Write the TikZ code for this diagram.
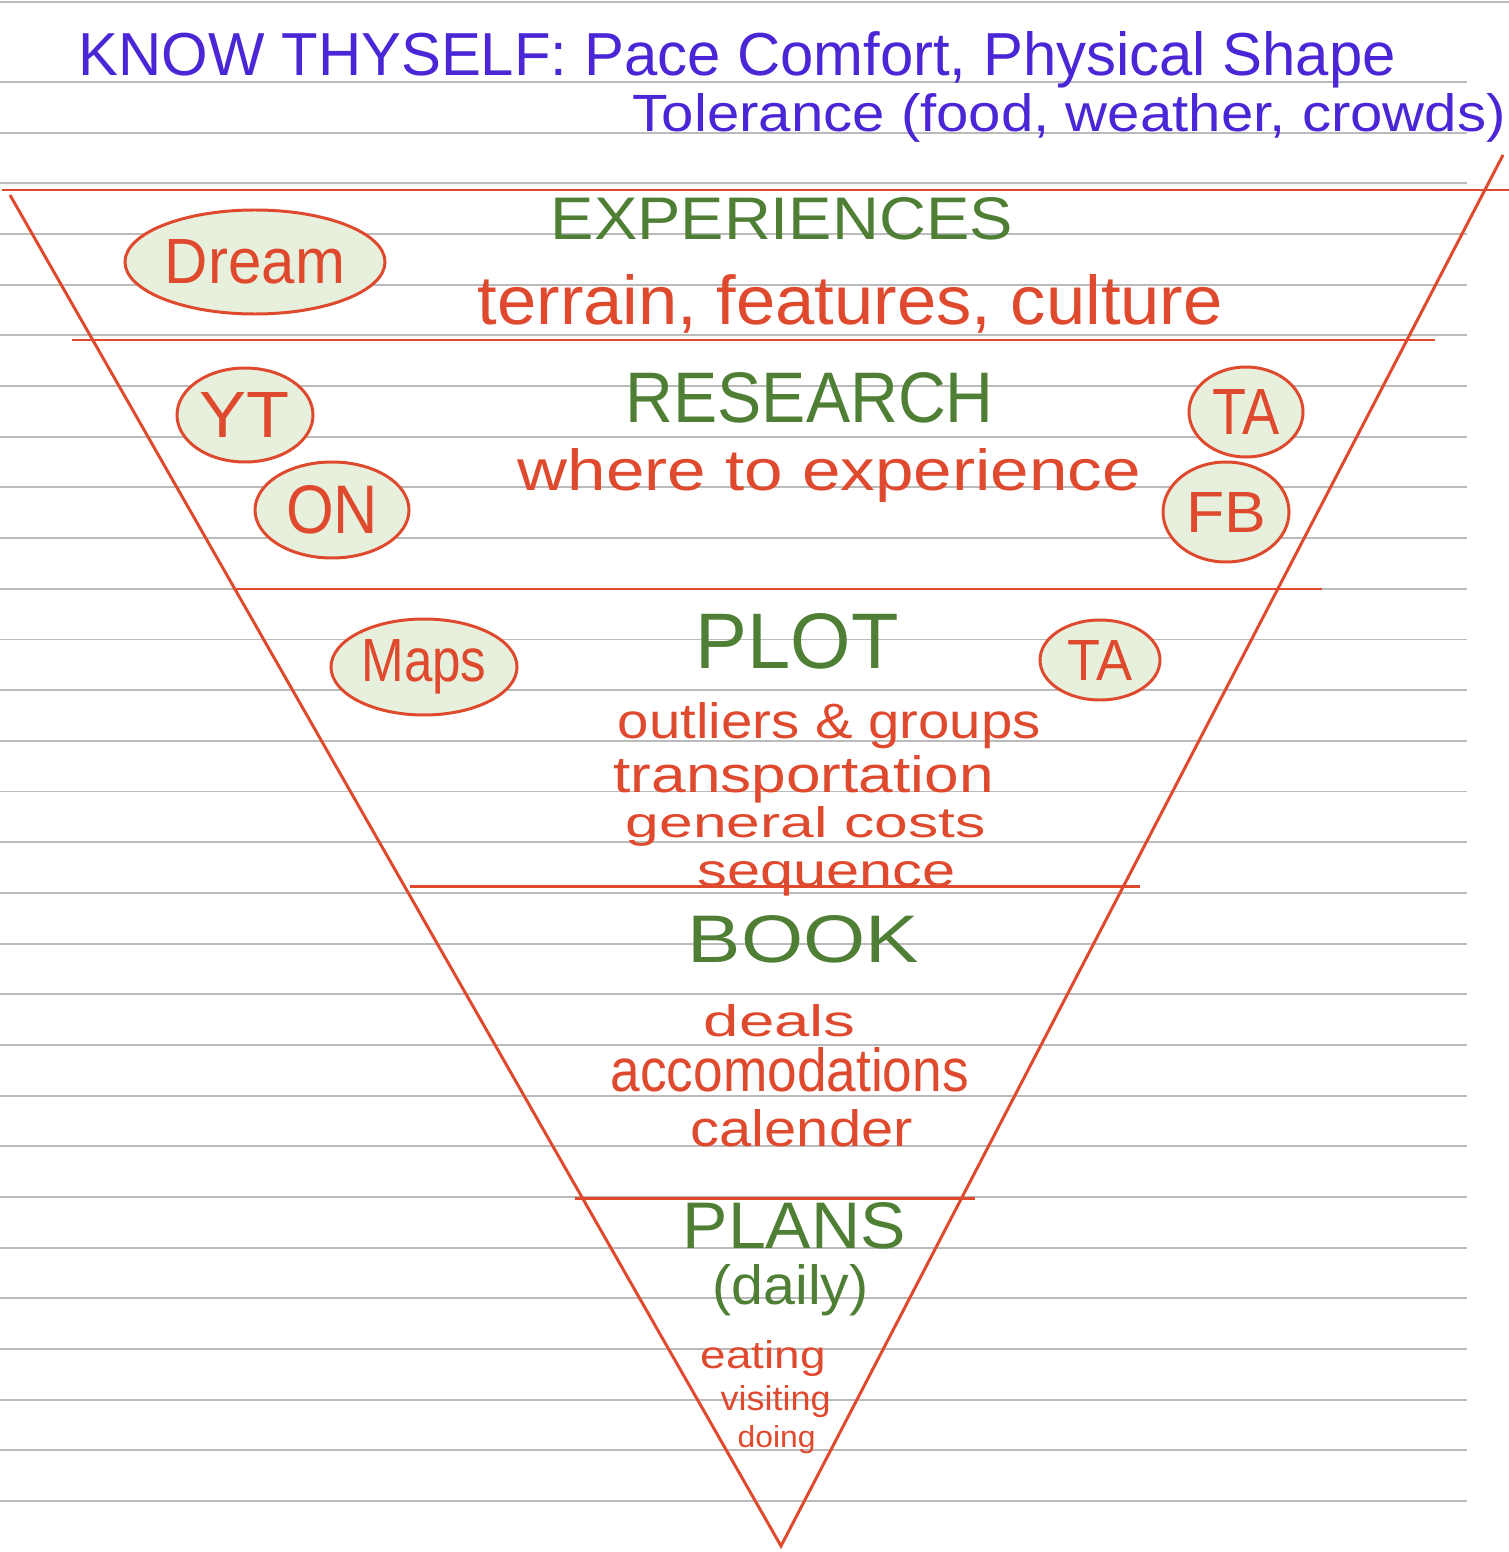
\documentclass[tikz,border=0pt]{standalone}
\usepackage{fontspec}
\setmainfont{Liberation Sans}
\usetikzlibrary{shapes.geometric}
\definecolor{pen}{HTML}{DF4A2E}
\definecolor{grn}{HTML}{4F7F35}
\definecolor{blu}{HTML}{4A26D6}
\definecolor{rulegray}{HTML}{BBBBBB}
\definecolor{blob}{HTML}{E6F0DC}
\newcommand\hw[3]{\resizebox{\dimexpr0.1mm*#1\relax}{\dimexpr0.1mm*#2\relax}{#3}}
\begin{document}
\begin{tikzpicture}[x=0.1mm,y=-0.1mm,
  rulel/.style={draw=rulegray, line width=0.55pt},
  penline/.style={draw=pen, line width=0.85pt},
  lbl/.style={inner sep=0pt, anchor=base west},
  head/.style={lbl, text=grn},
  item/.style={lbl, text=pen},
  title/.style={lbl, text=blu},
  oval/.style={ellipse, draw=pen, fill=blob, line width=0.85pt, inner sep=0pt, text=pen}]
\useasboundingbox (0,0) rectangle (1509,1552);
\fill[white] (0,0) rectangle (1509,1552);
% ruled paper
\draw[rulel] (0,2) -- (1509,2);
\foreach \i in {0,...,28}{
  \draw[rulel] (0,{82+50.68*\i}) -- (1467,{82+50.68*\i});
}
% funnel
\coordinate (lt) at (10,195);
\coordinate (rt) at (1503,155);
\coordinate (apex) at (781,1546);
\draw[penline] (lt) -- (apex) -- (rt);
\coordinate (h1a) at (2,190);   \coordinate (h1b) at (1509,190);
\coordinate (h2a) at (72,340);  \coordinate (h2b) at (1435,340);
\coordinate (h3a) at (233,589); \coordinate (h3b) at (1322,589);
\coordinate (h4a) at (410,886); \coordinate (h4b) at (1140,886);
\coordinate (h5a) at (575,1198);\coordinate (h5b) at (975,1198);
\draw[penline] (h1a) -- (h1b);
\draw[penline] (h2a) -- (h2b);
\draw[penline] (h3a) -- (h3b);
\draw[penline] (h4a) -- (h4b);
\draw[penline] (h5a) -- (h5b);
% title
\node[title] (t1) at (78,76) {\hw{1317}{44}{KNOW THYSELF: Pace Comfort, Physical Shape}};
\node[title] (t2) at (632,132) {\hw{873}{38}{Tolerance (food, weather, crowds)}};
% ovals
\node[oval, minimum width=26mm, minimum height=10.4mm] (dream) at (255,262) {\hw{180}{44}{Dream}};
\node[oval, minimum width=13.6mm, minimum height=9.4mm] (yt) at (245,415) {\hw{90}{45}{YT}};
\node[oval, minimum width=15.4mm, minimum height=9.6mm] (on) at (332,510) {\hw{92}{48}{ON}};
\node[oval, minimum width=11.4mm, minimum height=9mm] (ta1) at (1246,412) {\hw{67}{45}{TA}};
\node[oval, minimum width=12.6mm, minimum height=10mm] (fb) at (1226,512) {\hw{80}{40}{FB}};
\node[oval, minimum width=18.6mm, minimum height=9.6mm] (maps) at (424,667) {\hw{125}{42}{Maps}};
\node[oval, minimum width=12mm, minimum height=8mm] (ta2) at (1100,660) {\hw{65}{40}{TA}};
% levels
\node[head] (exp) at (550,240) {\hw{462}{42}{EXPERIENCES}};
\node[item] (expd) at (477,325) {\hw{745}{50}{terrain, features, culture}};
\node[head] (res) at (625,422) {\hw{368}{50}{RESEARCH}};
\node[item] (resd) at (517,490) {\hw{623}{42}{where to experience}};
\node[head] (plot) at (695,668) {\hw{203}{55}{PLOT}};
\node[item] (p1) at (617,738) {\hw{423}{36}{outliers \& groups}};
\node[item] (p2) at (613,792) {\hw{380}{37}{transportation}};
\node[item] (p3) at (625,837) {\hw{360}{31}{general costs}};
\node[item] (p4) at (697,886) {\hw{258}{25}{sequence}};
\node[head] (book) at (687,962) {\hw{231}{47}{BOOK}};
\node[item] (b1) at (703,1036) {\hw{152}{32}{deals}};
\node[item] (b2) at (610,1091) {\hw{358}{44}{accomodations}};
\node[item] (b3) at (690,1146) {\hw{222}{37}{calender}};
\node[head] (plans) at (682,1248) {\hw{223}{46}{PLANS}};
\node[head] (daily) at (712,1304) {\hw{156}{40}{(daily)}};
\node[item] (d1) at (700,1368) {\hw{125}{28}{eating}};
\node[item] (d2) at (720,1410) {\hw{110}{25}{visiting}};
\node[item] (d3) at (737,1447) {\hw{78}{22}{doing}};
\end{tikzpicture}
\end{document}
